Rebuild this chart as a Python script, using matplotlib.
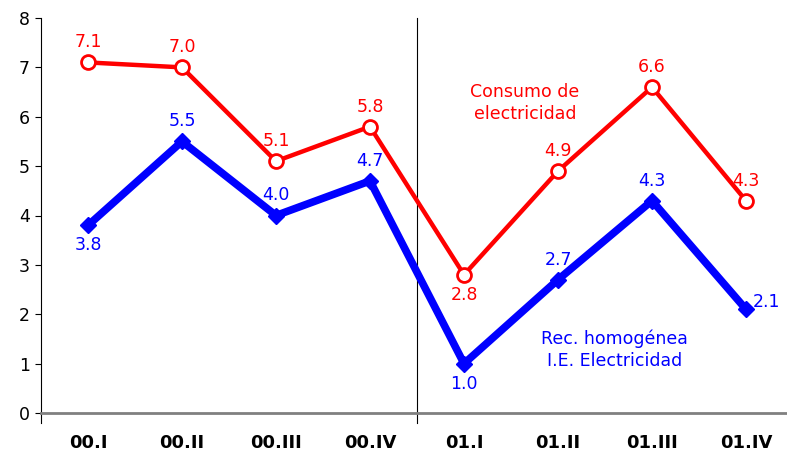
import numpy as np
import matplotlib
matplotlib.use('Agg')
import matplotlib.pyplot as plt

trimestres = ['00.I', '00.II', '00.III', '00.IV', '01.I', '01.II', '01.III', '01.IV']
consumo = [7.1, 7.0, 5.1, 5.8, 2.8, 4.9, 6.6, 4.3]
rec_homog = [3.8, 5.5, 4.0, 4.7, 1.0, 2.7, 4.3, 2.1]
# posicion de la etiqueta de cada punto: 'a' arriba, 'b' abajo, 'd' derecha
pos_consumo = ['a', 'a', 'a', 'a', 'b', 'a', 'a', 'a']
pos_rec = ['b', 'a', 'a', 'a', 'b', 'a', 'a', 'd']

plt.rcParams['font.family'] = ['DejaVu Sans']

fig = plt.figure(figsize=(7.87, 4.53), dpi=100)
ax = fig.add_axes([41 / 787, 40 / 453, 752 / 787, 395 / 453])

x = np.arange(len(trimestres))
ax.plot(x, consumo, color='#ff0000', lw=3.2, marker='o', ms=10,
        mfc='white', mec='#ff0000', mew=2, zorder=3)
ax.plot(x, rec_homog, color='#0000ff', lw=5.5, marker='D', ms=8,
        mfc='#0000ff', mec='#0000ff', zorder=3)

fs = 12.5

def etiquetas(vals, pos, color):
    for xi, v, p in zip(x, vals, pos):
        if p == 'a':
            ax.annotate(f'{v:.1f}', (xi, v), xytext=(0, 8), textcoords='offset points',
                        ha='center', va='bottom', color=color, fontsize=fs)
        elif p == 'b':
            ax.annotate(f'{v:.1f}', (xi, v), xytext=(0, -8), textcoords='offset points',
                        ha='center', va='top', color=color, fontsize=fs)
        else:
            ax.annotate(f'{v:.1f}', (xi, v), xytext=(5, 5), textcoords='offset points',
                        ha='left', va='center', color=color, fontsize=fs)

etiquetas(consumo, pos_consumo, '#ff0000')
etiquetas(rec_homog, pos_rec, '#0000ff')

ax.text(4.65, 6.28, 'Consumo de\nelectricidad', color='#ff0000', fontsize=12.5,
        ha='center', va='center', linespacing=1.3)
ax.text(5.6, 1.28, 'Rec. homogénea\nI.E. Electricidad', color='#0000ff', fontsize=12.5,
        ha='center', va='center', linespacing=1.3)

# separador entre años
ax.plot([3.5, 3.5], [-0.2, 8], color='black', lw=0.8, clip_on=False, zorder=1)

ax.set_xlim(-0.5, 7.5)
ax.set_ylim(0, 8)
ax.set_yticks(range(0, 9))
ax.set_xticks(x)
ax.set_xticklabels(trimestres, fontweight='bold', fontsize=13)
ax.tick_params(axis='x', length=0, pad=15)
ax.tick_params(axis='y', length=4, width=0.8, labelsize=12.5, pad=4)
for s in ['top', 'right']:
    ax.spines[s].set_visible(False)
ax.spines['bottom'].set_color('#808080')
ax.spines['bottom'].set_linewidth(2)
ax.spines['left'].set_linewidth(0.8)
ax.plot([-0.5, -0.5], [-0.2, 0], color='black', lw=0.8, clip_on=False)

plt.savefig('out.png', dpi=100)
plt.close()
